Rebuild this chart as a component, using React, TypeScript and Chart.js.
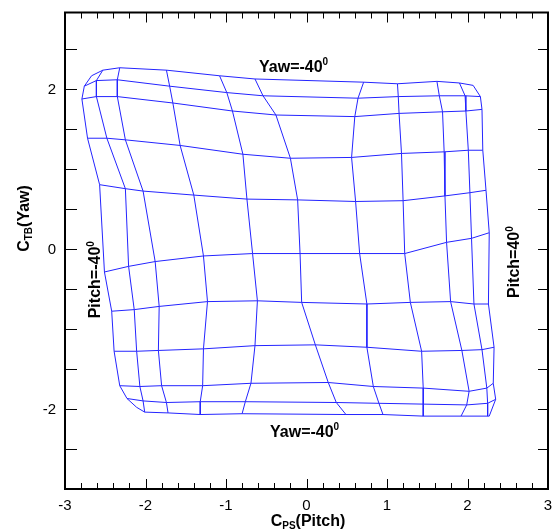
import React, { useEffect, useRef } from 'react';
import { Chart, registerables } from 'chart.js';

Chart.register(...registerables);

// ---- axis definitions ----
const xTickValues = [-3, -2, -1, 0, 1, 2, 3];
const yTickValues = [-2, 0, 2];
const xMin = -3;
const xMax = 3;
const yMin = -3;
const yMax = 2.95;
const xMinorStep = 0.2;
const yMinorStep = 0.5;

// ---- calibration mesh: C_PS (x) and C_TB (y) for each yaw row (top -> bottom), 11 pitch columns ----
const cpsRow01 = [-2.67, -2.53, -2.32, -1.74, -1.08, -0.64, 0.71, 1.13, 1.62, 1.9, 2.07];
const ctbRow01 = [2.16, 2.23, 2.26, 2.23, 2.16, 2.12, 2.08, 2.06, 2.09, 2.07, 2.04];
const cpsRow02 = [-2.76, -2.61, -2.35, -1.7, -0.99, -0.54, 0.64, 1.14, 1.65, 1.97, 2.16];
const ctbRow02 = [2.03, 2.1, 2.11, 2.03, 1.95, 1.91, 1.88, 1.9, 1.91, 1.91, 1.9];
const cpsRow03 = [-2.79, -2.61, -2.35, -1.66, -0.92, -0.38, 0.6, 1.15, 1.69, 1.98, 2.18];
const ctbRow03 = [1.87, 1.9, 1.9, 1.82, 1.72, 1.67, 1.65, 1.69, 1.71, 1.72, 1.74];
const cpsRow04 = [-2.72, -2.48, -2.25, -1.57, -0.79, -0.2, 0.56, 1.18, 1.71, 2.01, 2.19];
const ctbRow04 = [1.38, 1.38, 1.36, 1.29, 1.18, 1.13, 1.14, 1.19, 1.21, 1.23, 1.23];
const cpsRow05 = [-2.57, -2.25, -2.03, -1.4, -0.74, -0.11, 0.61, 1.2, 1.72, 2.03, 2.23];
const ctbRow05 = [0.8, 0.75, 0.72, 0.67, 0.62, 0.61, 0.59, 0.6, 0.66, 0.7, 0.73];
const cpsRow06 = [-2.51, -2.21, -1.88, -1.28, -0.67, -0.08, 0.66, 1.22, 1.74, 2.05, 2.27];
const ctbRow06 = [-0.29, -0.22, -0.16, -0.09, -0.06, -0.06, -0.06, -0.06, 0.08, 0.13, 0.2];
const cpsRow07 = [-2.42, -2.14, -1.83, -1.23, -0.61, -0.06, 0.75, 1.29, 1.79, 2.08, 2.26];
const ctbRow07 = [-0.78, -0.76, -0.72, -0.66, -0.65, -0.67, -0.69, -0.67, -0.66, -0.69, -0.69];
const cpsRow08 = [-2.39, -2.11, -1.84, -1.28, -0.64, 0.11, 0.75, 1.43, 1.93, 2.18, 2.33];
const ctbRow08 = [-1.28, -1.28, -1.27, -1.25, -1.21, -1.2, -1.23, -1.28, -1.27, -1.26, -1.23];
const cpsRow09 = [-2.32, -2.07, -1.8, -1.29, -0.69, 0.27, 0.83, 1.45, 2.02, 2.24, 2.32];
const ctbRow09 = [-1.71, -1.72, -1.71, -1.71, -1.68, -1.67, -1.72, -1.74, -1.78, -1.74, -1.68];
const cpsRow10 = [-2.23, -2.03, -1.74, -1.32, -0.76, 0.37, 0.9, 1.45, 1.99, 2.25, 2.35];
const ctbRow10 = [-1.87, -1.9, -1.92, -1.91, -1.91, -1.92, -1.93, -1.94, -1.95, -1.93, -1.88];
const cpsRow11 = [-2.11, -2.01, -1.72, -1.32, -0.8, 0.49, 0.95, 1.45, 1.92, 2.25, 2.27];
const ctbRow11 = [-1.98, -2.04, -2.05, -2.07, -2.06, -2.07, -2.07, -2.09, -2.09, -2.09, -2.09];

const cpsRows = [cpsRow01, cpsRow02, cpsRow03, cpsRow04, cpsRow05, cpsRow06, cpsRow07, cpsRow08, cpsRow09, cpsRow10, cpsRow11];
const ctbRows = [ctbRow01, ctbRow02, ctbRow03, ctbRow04, ctbRow05, ctbRow06, ctbRow07, ctbRow08, ctbRow09, ctbRow10, ctbRow11];

// ---- texts ----
const xTitle = { main: 'C', sub: 'PS', rest: '(Pitch)' };
const yTitle = { main: 'C', sub: 'TB', rest: '(Yaw)' };
const yawTopLabel = { text: 'Yaw=-40', sup: '0' };
const yawBottomLabel = { text: 'Yaw=-40', sup: '0' };
const pitchLeftLabel = { text: 'Pitch=-40', sup: '0' };
const pitchRightLabel = { text: 'Pitch=40', sup: '0' };

const LINE_COLOR = 'rgb(36,36,255)';
const FAMILY = '"Liberation Sans", Arial, Helvetica, sans-serif';

type Run = { t: string; size: number; dy: number };

function runsWidth(ctx: CanvasRenderingContext2D, runs: Run[]) {
  let w = 0;
  for (const r of runs) {
    ctx.font = `bold ${r.size}px ${FAMILY}`;
    w += ctx.measureText(r.t).width;
  }
  return w;
}

function drawRuns(ctx: CanvasRenderingContext2D, runs: Run[], x: number, y: number) {
  let cx = x;
  for (const r of runs) {
    ctx.font = `bold ${r.size}px ${FAMILY}`;
    ctx.fillText(r.t, cx, y + r.dy);
    cx += ctx.measureText(r.t).width;
  }
}

function titleRuns(t: { main: string; sub: string; rest: string }): Run[] {
  return [
    { t: t.main, size: 16, dy: 0 },
    { t: t.sub, size: 10, dy: 3 },
    { t: t.rest, size: 16, dy: 0 },
  ];
}

function supRuns(t: { text: string; sup: string }): Run[] {
  return [
    { t: t.text, size: 16, dy: 0 },
    { t: t.sup, size: 10, dy: -6.5 },
  ];
}

const framePlugin = {
  id: 'frame',
  afterDraw(chart: any) {
    const { ctx, chartArea: a, scales } = chart;
    const xs = scales.x;
    const ys = scales.y;
    ctx.save();
    ctx.strokeStyle = '#000';
    ctx.fillStyle = '#000';

    const seg = (x1: number, y1: number, x2: number, y2: number) => {
      ctx.beginPath();
      ctx.moveTo(x1, y1);
      ctx.lineTo(x2, y2);
      ctx.stroke();
    };

    // inward ticks
    ctx.lineWidth = 1;
    const nX = Math.round((xMax - xMin) / xMinorStep);
    for (let i = 0; i <= nX; i++) {
      const v = xMin + i * xMinorStep;
      const major = Math.abs(v - Math.round(v)) < 1e-6;
      const len = major ? 10 : 6;
      const px = Math.round(xs.getPixelForValue(v)) + 0.5;
      seg(px, a.bottom, px, a.bottom - len);
      seg(px, a.top, px, a.top + len);
    }
    for (let v = yMin + yMinorStep; v < yMax - 1e-6; v += yMinorStep) {
      const py = Math.round(ys.getPixelForValue(v)) + 0.5;
      seg(a.left, py, a.left + 12, py);
      seg(a.right, py, a.right - 10, py);
    }

    // frame
    ctx.lineWidth = 2;
    ctx.strokeRect(a.left, a.top, a.right - a.left, a.bottom - a.top);

    // tick labels
    ctx.font = `15px ${FAMILY}`;
    ctx.textBaseline = 'alphabetic';
    ctx.textAlign = 'center';
    for (const v of xTickValues) {
      ctx.fillText(String(v), xs.getPixelForValue(v), a.bottom + 20.5);
    }
    ctx.textAlign = 'right';
    for (const v of yTickValues) {
      ctx.fillText(String(v), a.left - 9, ys.getPixelForValue(v) + 5.3);
    }

    ctx.textAlign = 'left';
    // x title
    const xr = titleRuns(xTitle);
    const xw = runsWidth(ctx, xr);
    drawRuns(ctx, xr, 308 - xw / 2, 526);

    // y title (rotated)
    const yr = titleRuns(yTitle);
    const yw = runsWidth(ctx, yr);
    ctx.save();
    ctx.translate(28.5, 218.5 + yw / 2);
    ctx.rotate(-Math.PI / 2);
    drawRuns(ctx, yr, 0, 0);
    ctx.restore();

    // annotations
    drawRuns(ctx, supRuns(yawTopLabel), 259, 71.7);
    drawRuns(ctx, supRuns(yawBottomLabel), 270, 436.7);

    ctx.save();
    ctx.translate(100, 318.3);
    ctx.rotate(-Math.PI / 2);
    drawRuns(ctx, supRuns(pitchLeftLabel), 0, 0);
    ctx.restore();

    ctx.save();
    ctx.translate(519, 298);
    ctx.rotate(-Math.PI / 2);
    drawRuns(ctx, supRuns(pitchRightLabel), 0, 0);
    ctx.restore();

    ctx.restore();
  },
};

export default function App() {
  const ref = useRef<HTMLCanvasElement>(null);
  useEffect(() => {
    const canvas = ref.current;
    if (!canvas) return;
    const rows = cpsRows.map((xsRow, i) => xsRow.map((x, j) => ({ x, y: ctbRows[i][j] })));
    const cols = cpsRows[0].map((_, j) => cpsRows.map((xsRow, i) => ({ x: xsRow[j], y: ctbRows[i][j] })));
    const datasets = [...rows, ...cols].map((data) => ({
      data,
      showLine: true,
      borderColor: LINE_COLOR,
      backgroundColor: LINE_COLOR,
      borderWidth: 1,
      pointRadius: 0,
      pointHoverRadius: 0,
      fill: false,
      tension: 0,
    }));
    const chart = new Chart(canvas, {
      type: 'scatter',
      data: { datasets },
      options: {
        animation: false,
        responsive: false,
        events: [],
        layout: { padding: { left: 65, right: 8, top: 12.5, bottom: 43 } },
        plugins: { legend: { display: false }, tooltip: { enabled: false } },
        scales: {
          x: { type: 'linear', min: xMin, max: xMax, display: false },
          y: { type: 'linear', min: yMin, max: yMax, display: false },
        },
      },
      plugins: [framePlugin],
    } as any);
    return () => chart.destroy();
  }, []);
  return (
    <div style={{ position: 'absolute', left: 0, top: 0, width: 556, height: 532, background: '#fff' }}>
      <canvas ref={ref} width={556} height={532} style={{ display: 'block', width: 556, height: 532 }} />
    </div>
  );
}
